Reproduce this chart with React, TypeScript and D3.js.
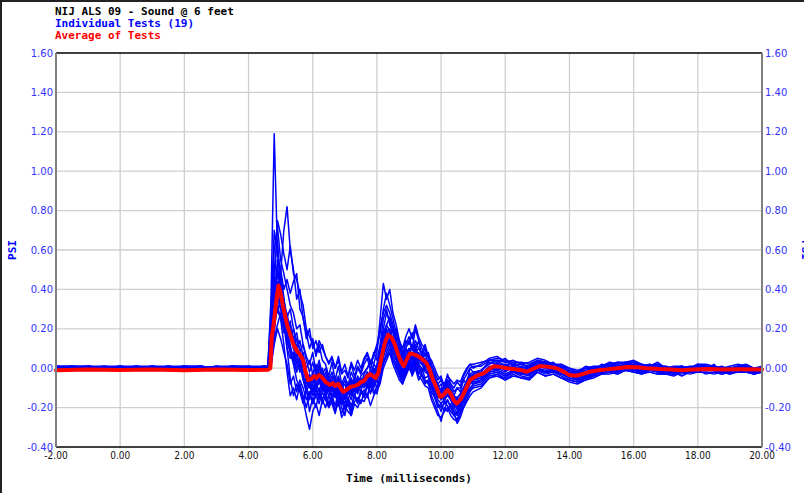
import React from 'react';
import * as d3 from 'd3';

// sample times (ms) shared by all individual tests
const preTimes = [-2, -1.5, -1, -0.5, 0, 0.5, 1, 1.5, 2, 2.5, 3, 3.5, 4, 4.5];
const actTimes = [
  4.6, 4.7, 4.8, 4.9, 5.0, 5.1, 5.2, 5.3, 5.4, 5.5,
  5.6, 5.7, 5.8, 5.9, 6.0, 6.1, 6.2, 6.3, 6.4, 6.5,
  6.6, 6.7, 6.8, 6.9, 7.0, 7.1, 7.2, 7.3, 7.4, 7.5,
  7.6, 7.7, 7.8, 7.9, 8.0, 8.1, 8.2, 8.3, 8.4, 8.5,
  8.6, 8.7, 8.8, 8.9, 9.0, 9.1, 9.2, 9.3, 9.4, 9.5,
  9.6, 9.7, 9.8, 9.9, 10.0, 10.1, 10.2, 10.3, 10.4, 10.5,
  10.6, 10.7, 10.8, 10.9, 11.0,
];
const tailTimes = [
  11.25, 11.5, 11.75, 12, 12.25, 12.5, 12.75, 13, 13.25, 13.5,
  13.75, 14, 14.25, 14.5, 14.75, 15, 15.25, 15.5, 15.75, 16,
  16.25, 16.5, 16.75, 17, 17.25, 17.5, 17.75, 18, 18.25, 18.5,
  18.75, 19, 19.25, 19.5, 19.75, 20,
];
const sampleTimes = [...preTimes, ...actTimes, ...tailTimes];

// individual tests, values in hundredths of PSI
const test01 = [
  0, 1, 0, -1, 1, 0, -1, 0, 1, 0, -1, 1, 0, -1,
  0, 35, 119, 60, 45, 22, 10, 5, 8, 2,
  6, -4, -10, -14, -8, -12, -6, -10, -13, -9,
  -14, -10, -15, -18, -12, -16, -11, -14, -9, -12,
  -5, -9, -2, -8, -1, 6, 18, 22, 19, 12,
  15, 4, 8, -2, 10, 4, 12, 3, 8, -1,
  4, -6, -3, -15, -10, -18, -8, -16, -20, -15,
  -19, -10, -12, -3, -8,
  -6, -2, 3, -1, 2, -3, 1, -1, 3, -2, 1, -4, -2, -5, 0, -3, 1, -2, 2, 0,
  -1, 2, -2, 0, -3, 1, -2, 1, -1, 2, -2, 0, -1, 1, -2, 0,
];
const test02 = [
  1, 0, 1, 0, 0, 1, 0, 1, 0, 1, 0, 0, 1, 0,
  -1, 5, 30, 55, 48, 70, 82, 60, 50, 35,
  40, 25, 18, 10, 15, 6, 12, 4, 2, -4,
  3, -6, 1, -8, -4, -9, -2, -6, 0, -3,
  2, 5, -1, 8, 4, 12, 25, 30, 22, 18,
  20, 10, 6, 14, 12, 18, 9, 14, 6, 10,
  5, 0, -4, -10, -8, -14, -6, -10, -14, -10,
  -12, -6, -8, 0, -2,
  -2, 4, 3, 5, 1, 2, 0, 4, 2, 3, -1, -1, -3, 0, -1, 2, 1, 3, 2, 3,
  1, 2, 0, 1, -1, 1, 0, 2, 1, 0, 1, -1, 1, 2, 0, 0,
];
const test03 = [
  -1, 0, -1, 0, -1, -1, 0, -1, 0, -1, 0, -1, -1, 0,
  0, 20, 50, 65, 40, 30, 10, -5, -14, -8,
  -12, -18, -10, -22, -15, -20, -12, -18, -14, -19,
  -15, -22, -13, -20, -24, -16, -21, -14, -18, -12,
  -15, -9, -13, -6, -10, -4, 3, 8, 12, 6,
  2, -3, -6, -1, 3, -2, 4, -3, 0, -5,
  -4, -9, -14, -18, -22, -17, -19, -22, -24, -26,
  -22, -19, -14, -11, -9,
  -8, -4, -3, -5, -2, -4, -5, -1, -3, -2, -4, -6, -7, -5, -4, -3, -2, -3, -1, -2,
  -3, -1, -2, -3, -2, -4, -2, -1, -3, -2, -3, -2, -1, -2, -3, -2,
];
const test04 = [
  0, 1, 1, 0, 1, 0, 1, 1, 0, 1, 0, 1, 0, 1,
  1, 10, 40, 75, 68, 58, 50, 62, 48, 45,
  38, 32, 20, 16, 12, 8, 14, 10, 6, 3,
  6, 0, 4, -3, -1, -5, 2, -4, 1, -2,
  4, 7, 2, 6, 10, 18, 30, 38, 32, 25,
  18, 14, 8, 12, 16, 10, 20, 14, 10, 6,
  8, 2, -2, -6, -4, -10, -3, -8, -10, -7,
  -9, -4, -1, 2, 0,
  2, 5, 6, 3, 4, 2, 3, 5, 4, 2, 1, -1, -2, 1, 0, 1, 3, 2, 3, 4,
  2, 1, 3, 0, 1, 1, 0, 2, 2, 1, 0, 1, 2, 1, 0, 1,
];
const test05 = [
  -1, -1, 0, -1, 0, -1, -1, 0, -1, -1, 0, -1, 0, -1,
  -1, 2, 15, 22, 28, 18, 24, 15, 20, 10,
  14, 6, 0, 4, -3, 2, -6, 0, -8, -4,
  -10, -5, -12, -7, -14, -8, -12, -6, -11, -5,
  -8, -2, -6, 0, -2, 5, 12, 18, 20, 15,
  8, 2, -3, 5, 8, 4, 10, 6, 2, 5,
  -1, -5, -10, -8, -16, -12, -9, -15, -18, -20,
  -17, -14, -8, -5, -3,
  -3, 1, -1, 2, -2, 0, -3, 2, 0, 1, -2, -3, -6, -2, -4, 0, -1, 1, 0, 2,
  -1, 1, -1, -2, 0, -2, -1, 0, -1, 1, -1, -2, 0, -1, -2, -1,
];
const test06 = [
  0, -1, 0, 0, -1, 0, 0, -1, 0, 0, -1, 0, -1, 0,
  0, 12, 45, 30, 25, 12, -2, -14, -10, -16,
  -8, -14, -20, -12, -18, -10, -16, -8, -14, -10,
  -16, -12, -19, -14, -20, -15, -22, -13, -17, -11,
  -14, -8, -12, -10, -6, -2, 8, 12, 15, 10,
  6, 1, -4, 2, 5, 1, 6, 0, -3, -6,
  -8, -12, -15, -20, -18, -22, -16, -20, -24, -22,
  -18, -15, -10, -8, -6,
  -5, -3, -2, -4, -1, -3, -4, 0, -2, -1, -3, -5, -6, -4, -3, -2, -1, -2, 0, -1,
  -2, 0, -1, -2, -3, -1, -2, 0, -1, -1, -2, -3, -1, 0, -2, -2,
];
const test07 = [
  1, 0, 0, 1, 0, 0, 1, 0, 0, 1, 0, 1, 0, 0,
  -1, 0, 18, 35, 42, 35, 26, 30, 20, 14,
  10, 2, -8, -4, -12, -6, -2, -10, -4, -12,
  -6, -14, -8, -12, -16, -9, -14, -10, -6, -10,
  -4, -7, 0, -5, -3, 0, 8, 14, 16, 20,
  12, 8, 3, 6, 9, 11, 5, 8, 4, 0,
  2, -2, -7, -12, -15, -11, -14, -12, -17, -19,
  -15, -11, -9, -5, -4,
  -4, 0, 2, -1, 1, -1, 0, 3, 1, 0, -2, -2, -5, -3, -2, -1, 1, 0, 2, 1,
  -1, 1, 0, -1, -1, -2, 0, 1, -1, 0, -1, -1, 1, 0, -2, -1,
];
const test08 = [
  -1, 0, -1, -1, 0, -1, 0, -1, -1, 0, -1, 0, -1, -1,
  0, 16, 38, 52, 35, 28, 14, 8, 2, -6,
  -10, -16, -24, -31, -22, -18, -24, -16, -20, -14,
  -18, -23, -16, -25, -22, -18, -24, -17, -15, -18,
  -12, -15, -8, -13, -9, -5, 4, 6, 10, 4,
  0, -4, -8, -2, 2, -4, 0, -6, -3, -8,
  -6, -14, -18, -22, -27, -20, -22, -18, -22, -28,
  -25, -20, -16, -12, -10,
  -9, -5, -3, -6, -3, -5, -6, -2, -4, -3, -5, -7, -8, -6, -5, -3, -3, -2, -1, -2,
  -3, -2, -3, -3, -4, -2, -3, -2, -2, -3, -2, -3, -2, -1, -3, -2,
];
const test09 = [
  0, 0, 1, 0, 0, 1, 0, 0, 1, 0, 1, 0, 0, 1,
  1, 4, 28, 44, 38, 26, 20, 22, 15, 18,
  8, 12, 4, -2, 3, -4, 2, -6, -2, -8,
  -4, -10, -6, -9, -12, -7, -10, -5, -8, -4,
  -2, 0, 3, -2, 2, 8, 16, 22, 26, 20,
  14, 8, 4, 10, 6, 12, 8, 10, 7, 4,
  3, -3, -6, -10, -12, -9, -8, -12, -14, -17,
  -14, -10, -6, -3, -2,
  -1, 2, 4, 1, 3, 0, 1, 3, 2, 2, 0, -2, -3, -1, 0, 0, 2, 1, 2, 3,
  1, 0, 2, 0, 0, 1, -1, 1, 1, 0, 0, -1, 1, 1, 0, 0,
];
const test10 = [
  -1, 0, 0, -1, 0, -1, 0, 0, -1, 0, -1, 0, 0, -1,
  -1, 3, 20, 32, 25, 20, 28, 18, 10, 12,
  4, 8, -2, -8, -4, -10, -6, -2, -8, -6,
  -9, -6, -11, -8, -13, -10, -7, -12, -9, -6,
  -8, -5, -9, -3, -7, 0, 6, 10, 14, 12,
  8, 3, -1, 4, 6, 2, 8, 4, 6, 2,
  0, -4, -9, -14, -12, -15, -11, -14, -16, -18,
  -16, -14, -9, -7, -5,
  -4, -1, 0, -2, 1, -2, -1, 1, 0, -1, -1, -3, -4, -4, -2, -2, 0, -1, 1, 0,
  0, -1, 0, -2, -1, -1, -2, 0, 0, -1, -1, 0, -1, 0, -1, -2,
];
const test11 = [
  1, 1, 0, 1, 1, 0, 1, 0, 1, 1, 0, 1, 1, 0,
  0, 25, 60, 72, 55, 48, 40, 32, 28, 20,
  22, 12, 6, 2, 8, -2, 4, -3, 0, -6,
  -2, -7, -4, -10, -6, -11, -5, -9, -4, -8,
  -5, -2, -6, 2, 0, 10, 20, 28, 24, 18,
  12, 6, 2, 8, 10, 6, 9, 7, 4, 8,
  2, -1, -6, -9, -12, -10, -8, -11, -14, -15,
  -13, -10, -7, -4, -3,
  -1, 3, 2, 2, 0, 1, -1, 3, 3, 1, 0, -2, -3, -2, -1, 0, 1, 1, 2, 2,
  0, 1, 1, -1, 0, 0, -1, 1, 0, 1, -1, 0, 0, 1, -1, 0,
];
const test12 = [
  0, -1, -1, 0, -1, 0, -1, -1, 0, -1, -1, 0, -1, 0,
  0, 6, 22, 38, 48, 36, 18, 12, 4, 8,
  -2, 4, -6, -10, -4, -8, -12, -6, -10, -14,
  -10, -15, -9, -14, -18, -12, -16, -10, -13, -8,
  -10, -6, -10, -7, -5, -1, 6, 12, 14, 10,
  6, 0, -4, 0, 4, 2, 5, 2, 0, -2,
  -3, -6, -11, -14, -16, -14, -12, -14, -18, -20,
  -18, -16, -11, -7, -6,
  -5, -2, -1, -3, -2, -3, -2, 0, -1, -2, -3, -4, -5, -4, -3, -2, -1, -1, 0, 0,
  -1, -1, -2, -2, -1, -2, -2, -1, 0, -1, -2, -1, -1, -1, -2, -1,
];
const test13 = [
  0, 1, 0, 0, 1, -1, 0, 1, 0, -1, 1, 0, 0, 1,
  -1, 14, 32, 48, 40, 32, 24, 14, 16, 6,
  8, 0, -6, -3, -8, -2, -8, -4, -10, -6,
  -12, -8, -14, -10, -8, -13, -8, -11, -7, -9,
  -6, -3, -7, -1, -4, 3, 12, 16, 18, 14,
  10, 6, 1, 4, 8, 8, 6, 4, 6, 3,
  0, -4, -9, -11, -14, -13, -12, -14, -17, -18,
  -16, -13, -9, -6, -4,
  -3, 0, 1, 0, -1, -1, -2, 1, 2, 0, -1, -3, -4, -3, -2, -1, 0, 0, 1, 1,
  0, 0, -1, -1, -2, -1, 0, 0, 0, -1, -1, -1, 0, 0, -1, -1,
];
const test14 = [
  -1, -1, -1, 0, -1, -1, 0, -1, -1, -1, 0, -1, -1, 0,
  0, 1, 12, 20, 15, 8, 2, -8, -4, -12,
  -6, -10, -16, -12, -18, -14, -10, -16, -12, -18,
  -14, -19, -12, -17, -21, -15, -19, -14, -17, -13,
  -11, -14, -8, -11, -13, -6, 2, 6, 8, 4,
  1, -2, -6, -3, 1, -1, 2, -2, -4, -7,
  -6, -10, -14, -18, -20, -18, -16, -20, -22, -24,
  -21, -17, -13, -10, -8,
  -7, -3, -2, -4, -2, -3, -3, -1, -2, -2, -3, -5, -6, -5, -3, -2, -2, -1, 0, -1,
  -2, -1, -1, -2, -2, -2, -2, -1, -1, -1, -2, -2, -1, -1, -2, -2,
];
const test15 = [
  1, 0, 1, 1, 0, 1, 1, 0, 1, 0, 1, 1, 0, 1,
  1, 8, 36, 50, 44, 34, 26, 20, 14, 10,
  6, 2, -4, -8, -2, -6, 0, -4, -6, -10,
  -6, -11, -5, -9, -12, -8, -6, -10, -5, -8,
  -3, 0, 4, 2, 8, 25, 43, 35, 40, 28,
  22, 14, 10, 16, 20, 15, 22, 16, 12, 10,
  6, 0, -4, -8, -6, -10, -6, -8, -12, -10,
  -10, -6, -3, 0, 1,
  1, 4, 4, 3, 2, 2, 1, 4, 3, 2, 1, 0, -2, 0, 0, 1, 2, 2, 3, 3,
  1, 1, 2, 0, 0, 0, 0, 1, 1, 1, 0, 0, 1, 1, 0, 0,
];
const test16 = [
  0, 0, -1, 0, 0, -1, 0, 0, 0, -1, 0, 0, -1, 0,
  0, 18, 42, 28, 36, 24, 16, 10, 6, 0,
  4, -4, -10, -6, -12, -8, -4, -8, -12, -6,
  -10, -14, -10, -16, -14, -10, -13, -8, -12, -6,
  -9, -4, -8, -5, 0, 6, 14, 20, 16, 12,
  6, 2, -2, 4, 6, 4, 8, 3, 2, -1,
  -2, -6, -10, -13, -15, -14, -13, -15, -18, -21,
  -19, -15, -10, -7, -5,
  -4, -1, 1, -1, 0, -2, -1, 2, 0, -1, -2, -3, -4, -3, -3, -1, 0, -1, 1, 1,
  0, 0, 0, -1, -1, -1, -1, 0, 0, 0, -1, -1, 0, 0, -1, -1,
];
const test17 = [
  -1, -1, 0, -1, -1, 0, -1, -1, 0, -1, -1, -1, 0, -1,
  -1, 10, 26, 42, 30, 22, 14, 8, 4, -2,
  2, -6, -12, -16, -10, -14, -18, -12, -16, -20,
  -17, -21, -18, -23, -19, -22, -24, -18, -20, -16,
  -17, -13, -19, -14, -11, -8, 0, 4, 8, 2,
  -2, -6, -8, -4, 0, -3, 1, -4, -6, -9,
  -10, -16, -20, -24, -25, -22, -20, -24, -26, -27,
  -23, -20, -17, -14, -12,
  -10, -5, -4, -6, -4, -5, -5, -2, -4, -3, -5, -6, -7, -6, -4, -3, -2, -3, -1, -2,
  -2, -2, -3, -3, -3, -3, -2, -2, -2, -2, -3, -2, -2, -2, -3, -2,
];
const test18 = [
  1, 1, 1, 0, 1, 1, 0, 1, 1, 1, 0, 1, 1, 1,
  0, 30, 70, 58, 50, 40, 45, 38, 44, 48,
  30, 26, 15, 20, 10, 14, 8, 12, 6, 2,
  5, 0, 6, -2, 2, -4, 3, -1, 4, 0,
  5, 8, 3, 7, 12, 20, 28, 32, 28, 22,
  16, 12, 6, 10, 14, 9, 14, 10, 8, 12,
  6, 4, 0, -4, -6, -8, -4, -6, -8, -6,
  -7, -3, 0, 2, 2,
  3, 4, 5, 4, 3, 3, 2, 4, 3, 2, 2, 0, -1, 0, 1, 1, 2, 3, 3, 3,
  2, 1, 1, 1, 0, 0, 1, 1, 1, 1, 0, 0, 1, 1, 0, 0,
];
const test19 = [
  0, -1, 0, -1, 0, 0, -1, 0, -1, 0, 0, -1, 0, -1,
  -1, 2, 22, 36, 30, 26, 18, 24, 10, 4,
  0, -4, -12, -8, -14, -10, -6, -12, -8, -12,
  -8, -12, -7, -11, -15, -9, -12, -7, -10, -6,
  -8, -10, -4, -9, -6, 1, 10, 14, 12, 8,
  4, -1, -5, 0, 3, 0, 4, 1, -2, 1,
  -4, -8, -12, -16, -18, -16, -14, -16, -20, -23,
  -20, -16, -12, -8, -7,
  -6, -2, -1, -3, -1, -3, -3, 0, -2, -1, -2, -4, -5, -4, -3, -2, -1, -1, 0, -1,
  -1, -1, -1, -2, -2, -2, -1, -1, -1, -1, -2, -1, -1, -1, -2, -1,
];
const tests = [
  test01, test02, test03, test04, test05, test06, test07, test08, test09, test10,
  test11, test12, test13, test14, test15, test16, test17, test18, test19,
];

// average of tests [ms, PSI]
const average: [number, number][] = [
  [-2, -0.01], [-1, -0.006], [0, -0.009], [1, -0.007], [2, -0.01], [3, -0.007], [4, -0.009],
  [4.6, -0.008], [4.68, 0.0], [4.72, 0.15], [4.78, 0.22], [4.85, 0.32], [4.93, 0.42],
  [5.0, 0.38], [5.08, 0.31], [5.2, 0.22], [5.3, 0.17], [5.4, 0.12], [5.5, 0.09], [5.6, 0.07],
  [5.7, 0.04], [5.78, -0.02], [5.86, -0.06], [5.95, -0.055], [6.05, -0.04], [6.12, -0.05],
  [6.2, -0.035], [6.28, -0.045], [6.4, -0.07], [6.54, -0.085], [6.62, -0.075], [6.7, -0.09],
  [6.8, -0.08], [6.9, -0.11], [6.96, -0.12], [7.05, -0.11], [7.17, -0.095], [7.3, -0.09],
  [7.4, -0.085], [7.5, -0.07], [7.6, -0.065], [7.7, -0.04], [7.79, -0.03], [7.88, -0.04],
  [7.96, -0.05], [8.05, -0.02], [8.15, 0.06], [8.25, 0.13], [8.35, 0.17], [8.46, 0.155],
  [8.56, 0.12], [8.66, 0.07], [8.76, 0.03], [8.84, 0.01], [8.92, 0.04], [9.03, 0.075],
  [9.15, 0.07], [9.3, 0.06], [9.42, 0.045], [9.55, 0.025], [9.65, -0.01], [9.75, -0.06],
  [9.86, -0.1], [9.97, -0.145], [10.05, -0.14], [10.2, -0.11], [10.3, -0.13], [10.4, -0.165],
  [10.49, -0.18], [10.6, -0.16], [10.7, -0.13], [10.8, -0.095], [10.9, -0.06], [11.0, -0.05],
  [11.15, -0.035], [11.32, -0.026], [11.5, -0.005], [11.63, 0.01], [11.8, 0.008], [12.05, 0.0],
  [12.3, -0.005], [12.5, -0.01], [12.67, -0.018], [12.85, -0.005], [13.08, 0.011], [13.3, 0.008],
  [13.6, 0.0], [13.85, -0.02], [14.0, -0.035], [14.22, -0.038], [14.45, -0.028], [14.64, -0.018],
  [14.9, -0.01], [15.16, -0.006], [15.5, 0.0], [15.8, 0.006], [16.1, 0.005], [16.4, 0.0],
  [16.8, -0.004], [17.2, -0.006], [17.5, -0.01], [17.85, -0.006], [18.3, -0.004], [18.8, -0.006],
  [19.3, -0.005], [20.0, -0.006],
];

const xTicks = [-2, 0, 2, 4, 6, 8, 10, 12, 14, 16, 18, 20];
const yTicks = [-0.4, -0.2, 0, 0.2, 0.4, 0.6, 0.8, 1.0, 1.2, 1.4, 1.6];

const titleLines = [
  { text: 'NIJ ALS 09 - Sound @ 6 feet', color: '#000000' },
  { text: 'Individual Tests (19)', color: '#0000ff' },
  { text: 'Average of Tests', color: '#ff0000' },
];

const W = 804;
const H = 493;
const plot = { left: 56, right: 762, top: 53, bottom: 447 };
const monoFont = '"DejaVu Sans Mono", "Liberation Mono", monospace';

export default function App() {
  const x = d3.scaleLinear().domain([-2, 20]).range([plot.left, plot.right]);
  const y = d3.scaleLinear().domain([-0.4, 1.6]).range([plot.bottom, plot.top]);
  const line = d3.line<[number, number]>().x(d => x(d[0])).y(d => y(d[1]));

  const testPaths = tests.map(vals =>
    line(sampleTimes
      .map((t, i) => [t, vals[i] / 100] as [number, number])
      .filter(d => d[1] !== undefined && !isNaN(d[1]))) || ''
  );

  return (
    <svg width={W} height={H} style={{ display: 'block', background: '#fff' }}>
      <style>{`body{margin:0}`}</style>
      <rect x={0} y={0} width={W} height={H} fill="#fff" />
      {/* frame */}
      <line x1={0} x2={W} y1={1} y2={1} stroke="#222" strokeWidth={2} />
      <line x1={1} x2={1} y1={0} y2={H} stroke="#222" strokeWidth={2} />

      {/* grid */}
      {xTicks.slice(1, -1).map(t => (
        <line key={'gx' + t} x1={x(t)} x2={x(t)} y1={plot.top} y2={plot.bottom}
          stroke="#cfcfcf" strokeWidth={1.3} />
      ))}
      {yTicks.slice(1, -1).map(t => (
        <line key={'gy' + t} x1={plot.left} x2={plot.right} y1={y(t)} y2={y(t)}
          stroke="#cfcfcf" strokeWidth={1.3} />
      ))}

      {/* individual tests */}
      <g fill="none" stroke="#0000ff" strokeWidth={1.5} strokeLinejoin="round">
        {testPaths.map((d, i) => <path key={i} d={d} />)}
      </g>

      {/* average */}
      <path d={line(average) || ''} fill="none" stroke="#ff0000" strokeWidth={4}
        strokeLinejoin="round" strokeLinecap="round" />

      {/* axes frame */}
      <line x1={plot.left} x2={plot.right} y1={plot.top} y2={plot.top} stroke="#000" strokeWidth={1.5} />
      <line x1={plot.left} x2={plot.right} y1={plot.bottom} y2={plot.bottom} stroke="#000" strokeWidth={1.5} />
      <line x1={plot.left} x2={plot.left} y1={plot.top} y2={plot.bottom} stroke="#808080" strokeWidth={2} />
      <line x1={plot.right} x2={plot.right} y1={plot.top} y2={plot.bottom} stroke="#808080" strokeWidth={2} />

      {/* y tick labels */}
      <g fontFamily='"DejaVu Sans", Verdana, sans-serif' fontSize={10} fill="#3333ff">
        {yTicks.map(t => (
          <text key={'yl' + t} x={plot.left - 3} y={y(t)} dy="0.35em" textAnchor="end">{t.toFixed(2)}</text>
        ))}
        {yTicks.map(t => (
          <text key={'yr' + t} x={plot.right + 3} y={y(t)} dy="0.35em" textAnchor="start">{t.toFixed(2)}</text>
        ))}
      </g>

      {/* x tick labels */}
      <g fontFamily='"Liberation Sans Narrow", "DejaVu Sans Condensed", "Liberation Sans", sans-serif'
        fontSize={10} fill="#111">
        {xTicks.map(t => (
          <text key={'xl' + t} x={x(t)} y={459} textAnchor="middle">{t.toFixed(2)}</text>
        ))}
      </g>

      {/* titles */}
      <g fontFamily={monoFont} fontSize={11} fontWeight="bold">
        {titleLines.map((l, i) => (
          <text key={l.text} x={55} y={15 + i * 12} fill={l.color}>{l.text}</text>
        ))}
        <text x={(plot.left + plot.right) / 2} y={482} textAnchor="middle" fill="#000">Time (milliseconds)</text>
        <text transform={`translate(16,${(plot.top + plot.bottom) / 2}) rotate(-90)`} textAnchor="middle"
          fill="#0000ff">PSI</text>
        <text transform={`translate(802,${(plot.top + plot.bottom) / 2}) rotate(90)`} textAnchor="middle"
          fill="#0000ff">PSI</text>
      </g>
    </svg>
  );
}
